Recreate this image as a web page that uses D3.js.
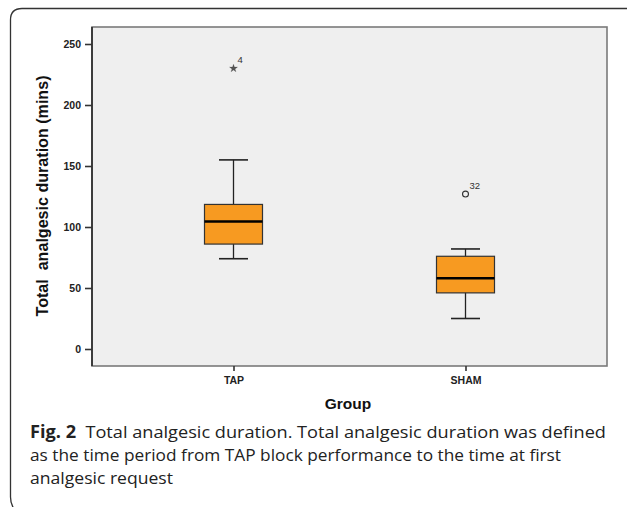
<!DOCTYPE html>
<html>
<head>
<meta charset="utf-8">
<script src="https://cdn.jsdelivr.net/npm/d3@7"></script>
<style>
  body { margin: 0; background: #fff; }
  svg { display: block; }
</style>
</head>
<body>
<svg id="chart" width="627" height="507"></svg>
<script>
// data
var groups = ["TAP", "SHAM"];
var whiskerLow = [74, 25];
var q1 = [86, 46];
var medians = [104.5, 58];
var q3 = [118.5, 76];
var whiskerHigh = [155, 82];
var outlierValues = [230, 127];
var outlierGroups = ["TAP", "SHAM"];
var outlierLabels = ["4", "32"];
var outlierKinds = ["star", "circle"];
var yTicks = [0, 50, 100, 150, 200, 250];

var svg = d3.select("#chart");

// figure frame (rounded left side, open to the right)
svg.append("path")
  .attr("d", "M627,8.5 H22 Q10.5,8.5 10.5,20 V497 Q10.5,505 15,510")
  .attr("fill", "none")
  .attr("stroke", "#333")
  .attr("stroke-width", 1.3);

var plot = { left: 92, right: 607, top: 27, bottom: 366 };

var y = d3.scaleLinear()
  .domain([0, 250])
  .range([349, 44]);

var x = d3.scalePoint()
  .domain(groups)
  .range([233.5, 465.5]);

// plot background
svg.append("rect")
  .attr("x", plot.left)
  .attr("y", plot.top)
  .attr("width", plot.right - plot.left)
  .attr("height", plot.bottom - plot.top)
  .attr("fill", "#efefef")
  .attr("stroke", "#7a7a7a")
  .attr("stroke-width", 1.6);

// y axis
var yAxis = svg.append("g")
  .attr("transform", "translate(" + plot.left + ",0)")
  .call(d3.axisLeft(y).tickValues(yTicks).tickSize(7).tickPadding(4).tickFormat(d3.format("d")));
yAxis.select(".domain")
  .attr("d", "M0," + plot.top + "V" + plot.bottom)
  .attr("stroke", "#333")
  .attr("stroke-width", 1.8);
yAxis.selectAll(".tick line").attr("stroke", "#333").attr("stroke-width", 1.6);
yAxis.selectAll(".tick text")
  .attr("fill", "#222")
  .style("font-family", "Arial, 'Liberation Sans', sans-serif")
  .style("font-size", "10.5px")
  .style("font-weight", "bold");

// x axis
var xAxis = svg.append("g")
  .attr("transform", "translate(0," + plot.bottom + ")")
  .call(d3.axisBottom(x).tickSize(5).tickPadding(6));
xAxis.select(".domain").remove();
xAxis.selectAll(".tick line").attr("stroke", "#333").attr("stroke-width", 1.6);
xAxis.selectAll(".tick text")
  .attr("fill", "#222")
  .style("font-family", "Arial, 'Liberation Sans', sans-serif")
  .style("font-size", "10.5px")
  .style("font-weight", "bold");

// axis titles
svg.append("text")
  .attr("x", 348)
  .attr("y", 409)
  .attr("text-anchor", "middle")
  .style("font-family", "Arial, 'Liberation Sans', sans-serif")
  .style("font-size", "15.5px")
  .style("font-weight", "bold")
  .attr("fill", "#111")
  .text("Group");

svg.append("text")
  .attr("transform", "translate(48,196) rotate(-90)")
  .attr("text-anchor", "middle")
  .attr("textLength", 241)
  .attr("lengthAdjust", "spacingAndGlyphs")
  .style("font-family", "Arial, 'Liberation Sans', sans-serif")
  .style("font-size", "16.5px")
  .style("font-weight", "bold")
  .style("white-space", "pre")
  .attr("fill", "#111")
  .text("Total  analgesic duration (mins)");

// boxes
var boxW = 58, capW = 29;
var stats = groups.map(function(g, i) {
  return { g: g, lo: whiskerLow[i], q1: q1[i], med: medians[i], q3: q3[i], hi: whiskerHigh[i] };
});

var box = svg.append("g").selectAll("g")
  .data(stats)
  .join("g");

box.append("line")
  .attr("x1", function(d) { return x(d.g); })
  .attr("x2", function(d) { return x(d.g); })
  .attr("y1", function(d) { return y(d.hi); })
  .attr("y2", function(d) { return y(d.lo); })
  .attr("stroke", "#222")
  .attr("stroke-width", 1.3);

box.selectAll(".cap")
  .data(function(d) { return [d.lo, d.hi].map(function(v) { return { g: d.g, v: v }; }); })
  .join("line")
  .attr("class", "cap")
  .attr("x1", function(d) { return x(d.g) - capW / 2; })
  .attr("x2", function(d) { return x(d.g) + capW / 2; })
  .attr("y1", function(d) { return y(d.v); })
  .attr("y2", function(d) { return y(d.v); })
  .attr("stroke", "#222")
  .attr("stroke-width", 1.6);

box.append("rect")
  .attr("x", function(d) { return x(d.g) - boxW / 2; })
  .attr("width", boxW)
  .attr("y", function(d) { return y(d.q3); })
  .attr("height", function(d) { return y(d.q1) - y(d.q3); })
  .attr("fill", "#f79a21")
  .attr("stroke", "#333")
  .attr("stroke-width", 1.2);

box.append("line")
  .attr("x1", function(d) { return x(d.g) - boxW / 2; })
  .attr("x2", function(d) { return x(d.g) + boxW / 2; })
  .attr("y1", function(d) { return y(d.med); })
  .attr("y2", function(d) { return y(d.med); })
  .attr("stroke", "#000")
  .attr("stroke-width", 2.6);

// outliers
var outliers = outlierValues.map(function(v, i) {
  return { g: outlierGroups[i], v: v, label: outlierLabels[i], kind: outlierKinds[i] };
});

var out = svg.append("g").selectAll("g")
  .data(outliers)
  .join("g")
  .attr("transform", function(d) { return "translate(" + x(d.g) + "," + y(d.v) + ")"; });

out.append("path")
  .attr("d", function(d) {
    return d.kind === "star"
      ? d3.symbol(d3.symbolStar, 20)()
      : d3.symbol(d3.symbolCircle, 28)();
  })
  .attr("fill", function(d) { return d.kind === "star" ? "#555" : "none"; })
  .attr("stroke", "#333")
  .attr("stroke-width", function(d) { return d.kind === "star" ? 0.2 : 1.1; });

out.append("text")
  .attr("x", 4)
  .attr("y", -5)
  .style("font-family", "Arial, 'Liberation Sans', sans-serif")
  .style("font-size", "9.5px")
  .attr("fill", "#333")
  .text(function(d) { return d.label; });

// caption
var captionFont = "'Open Sans', 'Noto Sans', sans-serif";
var cap1 = svg.append("text")
  .attr("x", 30)
  .attr("y", 438)
  .attr("textLength", 576)
  .attr("lengthAdjust", "spacingAndGlyphs")
  .style("font-family", captionFont)
  .style("font-size", "17px")
  .attr("fill", "#222");
cap1.append("tspan").style("font-weight", "bold").text("Fig. 2");
cap1.append("tspan").style("white-space", "pre").text("  Total analgesic duration. Total analgesic duration was defined");

svg.append("text")
  .attr("x", 30)
  .attr("y", 461)
  .attr("textLength", 531)
  .attr("lengthAdjust", "spacingAndGlyphs")
  .style("font-family", captionFont)
  .style("font-size", "17px")
  .attr("fill", "#222")
  .text("as the time period from TAP block performance to the time at first");

svg.append("text")
  .attr("x", 30)
  .attr("y", 484)
  .attr("textLength", 143)
  .attr("lengthAdjust", "spacingAndGlyphs")
  .style("font-family", captionFont)
  .style("font-size", "17px")
  .attr("fill", "#222")
  .text("analgesic request");
</script>
</body>
</html>
